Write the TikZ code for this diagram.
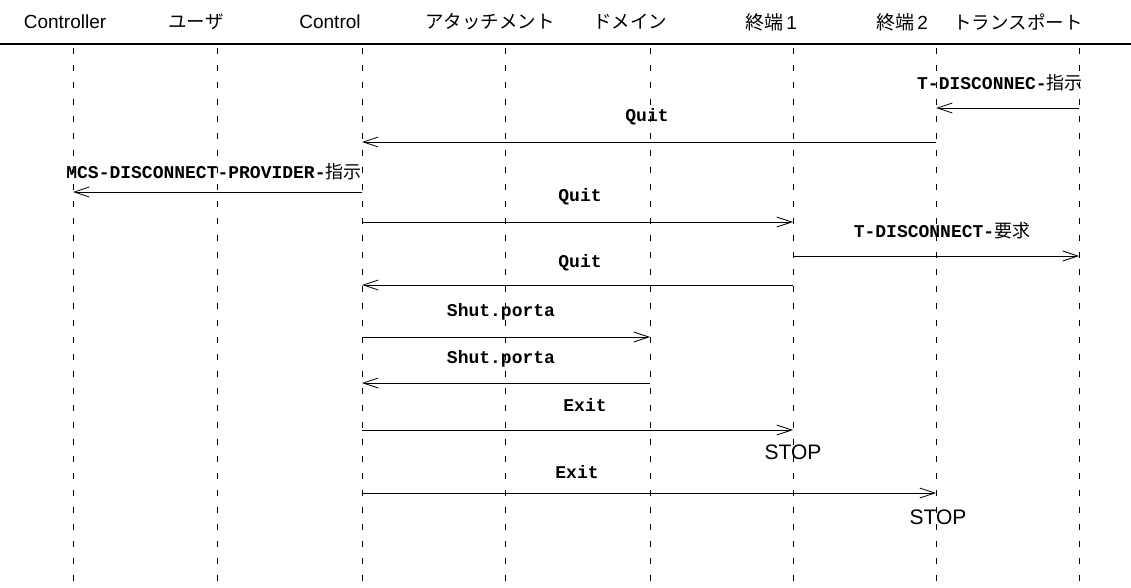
\documentclass[tikz,border=0pt]{standalone}
\usepackage{fontspec}
\setmainfont{Liberation Sans}
\setmonofont{Liberation Mono}
\newfontfamily\cjk{Noto Sans CJK JP}
\usetikzlibrary{arrows.meta}
\tikzset{
  head/.style={font=\fontsize{19}{21}\selectfont, inner sep=0pt, anchor=center},
  jhead/.style={font=\cjk\fontsize{18.5}{21}\selectfont, inner sep=0pt, anchor=center},
  life/.style={line width=0.8pt, dash pattern=on 6pt off 11pt},
  msg/.style={line width=0.8pt, -{Straight Barb[length=15pt,width=10pt,line width=0.8pt]}},
  lbl/.style={font=\ttfamily\bfseries\fontsize{18}{20}\selectfont, inner sep=0pt},
  stopl/.style={font=\fontsize{21}{23}\selectfont, inner sep=0pt}
}
\newcommand\jp[1]{{\cjk\mdseries #1}}
\begin{document}
\begin{tikzpicture}[x=1pt,y=-1pt]
\useasboundingbox (0,0) rectangle (1131,588);
% headers
\node[head]  (h1) at (65,22)   {Controller};
\node[jhead] (h2) at (196,22)  {ユーザ};
\node[head]  (h3) at (330,22)  {Control};
\node[jhead] (h4) at (490,22)  {アタッチメント};
\node[jhead] (h5) at (630,22)  {ドメイン};
\node[head]  (h6) at (771,22)  {\jp{終端}\,1};
\node[head]  (h7) at (902,22)  {\jp{終端}\,2};
\node[jhead] (h8) at (1018,22) {トランスポート};
\coordinate (hl) at (0,44);
\coordinate (hr) at (1131,44);
\draw[line width=1.2pt] (hl) -- (hr);
% lifelines
\foreach \i/\x in {1/73,2/217,3/362,4/505,5/650,6/793,7/936,8/1079}{
  \coordinate (l\i) at (\x,48);
  \coordinate (e\i) at (\x,588);
  \draw[life] (l\i) -- (e\i);
}
% messages
\node[lbl, anchor=east] (t1) at (1083,83) {T-DISCONNEC-\jp{指示}};
\draw[msg] (l8 |- 0,108) -- (l7 |- 0,108);
\node[lbl] (t2) at (647,117) {Quit};
\draw[msg] (l7 |- 0,142) -- (l3 |- 0,142);
\node[lbl] (t3) at (214,172) {MCS-DISCONNECT-PROVIDER-\jp{指示}};
\draw[msg] (l3 |- 0,192) -- (l1 |- 0,192);
\node[lbl] (t4) at (580,197) {Quit};
\draw[msg] (l3 |- 0,222) -- (l6 |- 0,222);
\node[lbl] (t5) at (942,231) {T-DISCONNECT-\jp{要求}};
\draw[msg] (l6 |- 0,256) -- (l8 |- 0,256);
\node[lbl] (t6) at (580,263) {Quit};
\draw[msg] (l6 |- 0,285) -- (l3 |- 0,285);
\node[lbl] (t7) at (501,312) {Shut.porta};
\draw[msg] (l3 |- 0,337) -- (l5 |- 0,337);
\node[lbl] (t8) at (501,359) {Shut.porta};
\draw[msg] (l5 |- 0,383) -- (l3 |- 0,383);
\node[lbl] (t9) at (585,405) {Exit};
\draw[msg] (l3 |- 0,430) -- (l6 |- 0,430);
\node[stopl] (s1) at (793,452) {STOP};
\node[lbl] (t10) at (577,472) {Exit};
\draw[msg] (l3 |- 0,493) -- (l7 |- 0,493);
\node[stopl] (s2) at (938,517) {STOP};
\end{tikzpicture}
\end{document}
